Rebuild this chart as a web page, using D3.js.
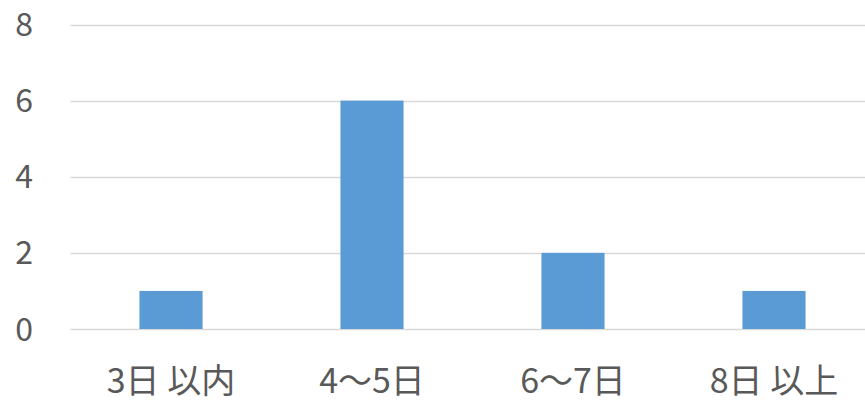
<!DOCTYPE html>
<html>
<head>
<meta charset="utf-8">
<script src="https://cdn.jsdelivr.net/npm/d3@7"></script>
<style>
  html, body { margin: 0; padding: 0; background: #fff; }
  svg { display: block; }
  text { font-family: "Noto Sans CJK JP", "Noto Sans", sans-serif; fill: #595959; }
</style>
</head>
<body>
<svg id="chart" width="865" height="403"></svg>
<script>
// 日数ごとの件数
const categories = ["3日 以内", "4〜5日", "6〜7日", "8日 以上"];
const counts = [1, 6, 2, 1];
const yTicks = [0, 2, 4, 6, 8];

const svg = d3.select("#chart");
const plot = { left: 70.5, right: 874.5, top: 24.5, bottom: 329 };

const x = d3.scaleBand()
  .domain(categories)
  .range([plot.left, plot.right])
  .paddingInner(0.686)
  .paddingOuter(0.343);

const y = d3.scaleLinear()
  .domain([0, 8])
  .range([plot.bottom, plot.top]);

// horizontal gridlines
svg.append("g")
  .selectAll("line")
  .data(yTicks)
  .join("line")
  .attr("x1", plot.left)
  .attr("x2", plot.right)
  .attr("y1", d => Math.round(y(d)) + 0.5)
  .attr("y2", d => Math.round(y(d)) + 0.5)
  .attr("stroke", "#d9d9d9")
  .attr("stroke-width", 1.5);

// y-axis labels
svg.append("g")
  .selectAll("text")
  .data(yTicks)
  .join("text")
  .attr("x", 33)
  .attr("y", d => y(d))
  .attr("dy", "0.36em")
  .attr("text-anchor", "end")
  .attr("font-size", 32)
  .text(d => d);

// bars
svg.append("g")
  .selectAll("rect")
  .data(categories)
  .join("rect")
  .attr("x", d => x(d))
  .attr("width", x.bandwidth())
  .attr("y", (d, i) => y(counts[i]))
  .attr("height", (d, i) => y(0) - y(counts[i]))
  .attr("fill", "#5b9bd5");

// category labels
svg.append("g")
  .selectAll("text")
  .data(categories)
  .join("text")
  .attr("x", d => x(d) + x.bandwidth() / 2)
  .attr("y", 393)
  .attr("text-anchor", "middle")
  .attr("font-size", 34)
  .text(d => d);
</script>
</body>
</html>
